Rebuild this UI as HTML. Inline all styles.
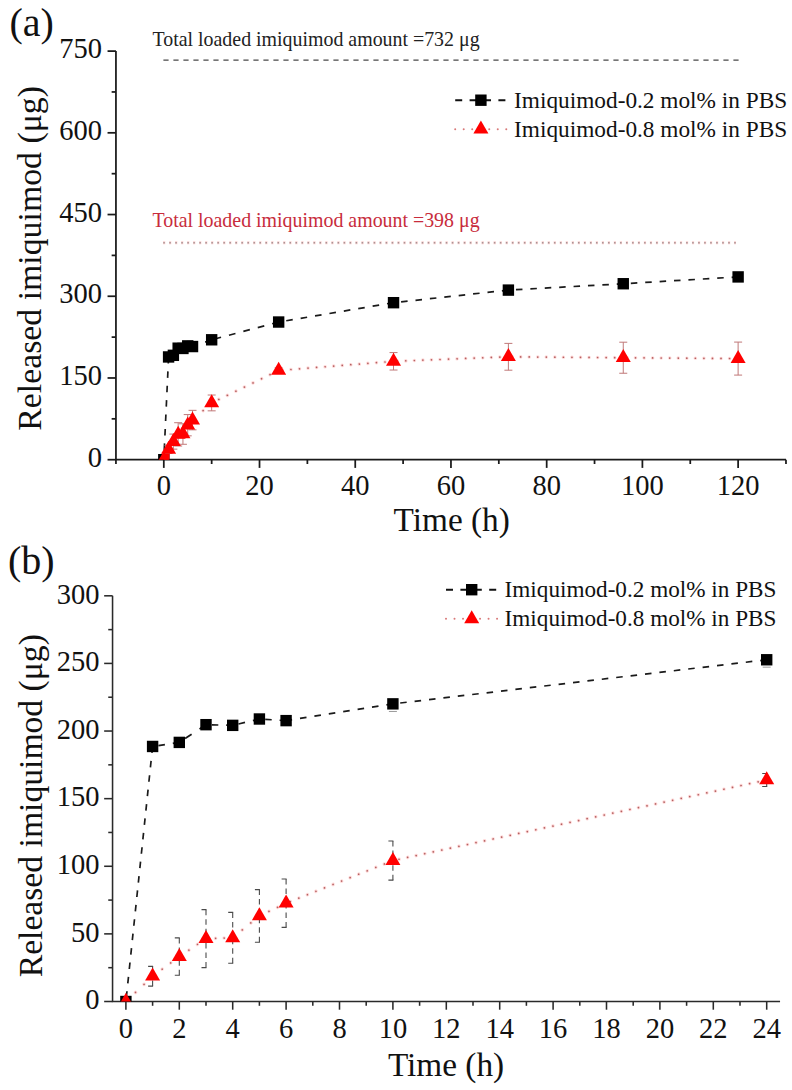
<!DOCTYPE html>
<html><head><meta charset="utf-8"><style>html,body{margin:0;padding:0;background:#fff;overflow:hidden}svg{display:block}</style></head>
<body>
<svg width="792" height="1090" viewBox="0 0 792 1090">
<rect width="100%" height="100%" fill="#fff"/>
<defs>
<clipPath id="ca"><rect x="115.94000000000001" y="41.10000000000002" width="680.04" height="418.59999999999997"/></clipPath>
<clipPath id="cb"><rect x="112.55000000000001" y="585.81" width="677.5" height="415.69000000000005"/></clipPath>
</defs>
<text x="9.5" y="35.5" font-family="Liberation Serif, serif" font-size="40" fill="#111">(a)</text>
<g stroke="#1a1a1a" stroke-width="1.75" fill="none" stroke-linecap="butt">
<path d="M115.94,51.10V459.70H785.98"/>
<path d="M163.80,459.70v8.2"/>
<path d="M259.52,459.70v8.2"/>
<path d="M355.24,459.70v8.2"/>
<path d="M450.96,459.70v8.2"/>
<path d="M546.68,459.70v8.2"/>
<path d="M642.40,459.70v8.2"/>
<path d="M738.12,459.70v8.2"/>
<path d="M115.94,459.70v4.3"/>
<path d="M211.66,459.70v4.3"/>
<path d="M307.38,459.70v4.3"/>
<path d="M403.10,459.70v4.3"/>
<path d="M498.82,459.70v4.3"/>
<path d="M594.54,459.70v4.3"/>
<path d="M690.26,459.70v4.3"/>
<path d="M785.98,459.70v4.3"/>
<path d="M115.94,459.70h-8.4"/>
<path d="M115.94,377.98h-8.4"/>
<path d="M115.94,296.26h-8.4"/>
<path d="M115.94,214.54h-8.4"/>
<path d="M115.94,132.82h-8.4"/>
<path d="M115.94,51.10h-8.4"/>
<path d="M115.94,418.84h-4.3"/>
<path d="M115.94,337.12h-4.3"/>
<path d="M115.94,255.40h-4.3"/>
<path d="M115.94,173.68h-4.3"/>
<path d="M115.94,91.96h-4.3"/>
</g>
<g font-family="Liberation Serif, serif" font-size="28.5" fill="#111">
<text x="163.80" y="494.6" text-anchor="middle">0</text>
<text x="259.52" y="494.6" text-anchor="middle">20</text>
<text x="355.24" y="494.6" text-anchor="middle">40</text>
<text x="450.96" y="494.6" text-anchor="middle">60</text>
<text x="546.68" y="494.6" text-anchor="middle">80</text>
<text x="642.40" y="494.6" text-anchor="middle">100</text>
<text x="738.12" y="494.6" text-anchor="middle">120</text>
<text x="101.9" y="466.90" text-anchor="end">0</text>
<text x="101.9" y="385.18" text-anchor="end">150</text>
<text x="101.9" y="303.46" text-anchor="end">300</text>
<text x="101.9" y="221.74" text-anchor="end">450</text>
<text x="101.9" y="140.02" text-anchor="end">600</text>
<text x="101.9" y="58.30" text-anchor="end">750</text>
</g>
<text transform="translate(40.6,430.8) rotate(-90)" font-family="Liberation Serif, serif" font-size="33.8" fill="#111">Released imiquimod (μg)</text>
<text x="393.6" y="530.6" font-family="Liberation Serif, serif" font-size="33.3" fill="#111">Time (h)</text>
<text x="152.5" y="45.9" font-family="Liberation Serif, serif" font-size="19.9" fill="#222">Total loaded imiquimod amount =732 μg</text>
<path d="M163.4,60.1H739" stroke="#484848" stroke-width="1.3" stroke-dasharray="5.2 4.8"/>
<text x="152.5" y="227.3" font-family="Liberation Serif, serif" font-size="19.9" fill="#c82c3c">Total loaded imiquimod amount =398 μg</text>
<path d="M163.05,242.7H736" stroke="#f08888" stroke-opacity="0.4" stroke-width="3" stroke-dasharray="2.2 3.81"/>
<path d="M163.3,242.7H736" stroke="#a89494" stroke-width="1.4" stroke-dasharray="1.5 4.51"/>
<g clip-path="url(#ca)">
<path d="M168.59,356.95L163.80,459.70" fill="none" stroke="#1a1a1a" stroke-width="1.7" stroke-dasharray="6.507 7.909"/>
<path d="M173.37,355.32L168.59,356.95" fill="none" stroke="#1a1a1a" stroke-width="1.7" stroke-dasharray="6.869 8.348"/>
<path d="M178.16,348.18L173.37,355.32" fill="none" stroke="#1a1a1a" stroke-width="1.7" stroke-dasharray="7.826 9.512"/>
<path d="M182.94,348.45L178.16,348.18" fill="none" stroke="#1a1a1a" stroke-width="1.7" stroke-dasharray="6.511 7.913"/>
<path d="M187.73,345.89L182.94,348.45" fill="none" stroke="#1a1a1a" stroke-width="1.7" stroke-dasharray="7.372 8.960"/>
<path d="M192.52,346.55L187.73,345.89" fill="none" stroke="#1a1a1a" stroke-width="1.7" stroke-dasharray="6.560 7.973"/>
<path d="M211.66,339.79L192.52,346.55" fill="none" stroke="#1a1a1a" stroke-width="1.7" stroke-dasharray="6.893 8.377"/>
<path d="M278.66,322.03L211.66,339.79" fill="none" stroke="#1a1a1a" stroke-width="1.7" stroke-dasharray="6.724 8.173"/>
<path d="M393.53,302.69L278.66,322.03" fill="none" stroke="#1a1a1a" stroke-width="1.7" stroke-dasharray="6.591 8.011"/>
<path d="M508.39,290.10L393.53,302.69" fill="none" stroke="#1a1a1a" stroke-width="1.7" stroke-dasharray="6.539 7.947"/>
<path d="M623.26,283.73L508.39,290.10" fill="none" stroke="#1a1a1a" stroke-width="1.7" stroke-dasharray="6.510 7.912"/>
<path d="M738.12,276.92L623.26,283.73" fill="none" stroke="#1a1a1a" stroke-width="1.7" stroke-dasharray="6.511 7.914"/>
<path d="M168.59,449.51L163.80,459.70" fill="none" stroke="#ff4040" stroke-opacity="0.2" stroke-width="3.6" stroke-dasharray="0.01 9.436" stroke-linecap="round"/>
<path d="M168.59,449.51L163.80,459.70" fill="none" stroke="#b26262" stroke-width="1.7" stroke-dasharray="0.01 9.436" stroke-linecap="round"/>
<path d="M173.37,441.61L168.59,449.51" fill="none" stroke="#ff4040" stroke-opacity="0.2" stroke-width="3.6" stroke-dasharray="0.01 9.987" stroke-linecap="round"/>
<path d="M173.37,441.61L168.59,449.51" fill="none" stroke="#b26262" stroke-width="1.7" stroke-dasharray="0.01 9.987" stroke-linecap="round"/>
<path d="M178.16,434.37L173.37,441.61" fill="none" stroke="#ff4040" stroke-opacity="0.2" stroke-width="3.6" stroke-dasharray="0.01 10.237" stroke-linecap="round"/>
<path d="M178.16,434.37L173.37,441.61" fill="none" stroke="#b26262" stroke-width="1.7" stroke-dasharray="0.01 10.237" stroke-linecap="round"/>
<path d="M182.94,434.04L178.16,434.37" fill="none" stroke="#ff4040" stroke-opacity="0.2" stroke-width="3.6" stroke-dasharray="0.01 8.560" stroke-linecap="round"/>
<path d="M182.94,434.04L178.16,434.37" fill="none" stroke="#b26262" stroke-width="1.7" stroke-dasharray="0.01 8.560" stroke-linecap="round"/>
<path d="M187.73,425.21L182.94,434.04" fill="none" stroke="#ff4040" stroke-opacity="0.2" stroke-width="3.6" stroke-dasharray="0.01 9.716" stroke-linecap="round"/>
<path d="M187.73,425.21L182.94,434.04" fill="none" stroke="#b26262" stroke-width="1.7" stroke-dasharray="0.01 9.716" stroke-linecap="round"/>
<path d="M192.52,420.09L187.73,425.21" fill="none" stroke="#ff4040" stroke-opacity="0.2" stroke-width="3.6" stroke-dasharray="0.01 11.693" stroke-linecap="round"/>
<path d="M192.52,420.09L187.73,425.21" fill="none" stroke="#b26262" stroke-width="1.7" stroke-dasharray="0.01 11.693" stroke-linecap="round"/>
<path d="M211.66,402.93L192.52,420.09" fill="none" stroke="#ff4040" stroke-opacity="0.2" stroke-width="3.6" stroke-dasharray="0.01 11.472" stroke-linecap="round"/>
<path d="M211.66,402.93L192.52,420.09" fill="none" stroke="#b26262" stroke-width="1.7" stroke-dasharray="0.01 11.472" stroke-linecap="round"/>
<path d="M278.66,370.46L211.66,402.93" fill="none" stroke="#ff4040" stroke-opacity="0.2" stroke-width="3.6" stroke-dasharray="0.01 9.491" stroke-linecap="round"/>
<path d="M278.66,370.46L211.66,402.93" fill="none" stroke="#b26262" stroke-width="1.7" stroke-dasharray="0.01 9.491" stroke-linecap="round"/>
<path d="M393.53,361.31L278.66,370.46" fill="none" stroke="#ff4040" stroke-opacity="0.2" stroke-width="3.6" stroke-dasharray="0.01 8.567" stroke-linecap="round"/>
<path d="M393.53,361.31L278.66,370.46" fill="none" stroke="#b26262" stroke-width="1.7" stroke-dasharray="0.01 8.567" stroke-linecap="round"/>
<path d="M508.39,356.79L393.53,361.31" fill="none" stroke="#ff4040" stroke-opacity="0.2" stroke-width="3.6" stroke-dasharray="0.01 8.547" stroke-linecap="round"/>
<path d="M508.39,356.79L393.53,361.31" fill="none" stroke="#b26262" stroke-width="1.7" stroke-dasharray="0.01 8.547" stroke-linecap="round"/>
<path d="M623.26,357.71L508.39,356.79" fill="none" stroke="#ff4040" stroke-opacity="0.2" stroke-width="3.6" stroke-dasharray="0.01 8.540" stroke-linecap="round"/>
<path d="M623.26,357.71L508.39,356.79" fill="none" stroke="#b26262" stroke-width="1.7" stroke-dasharray="0.01 8.540" stroke-linecap="round"/>
<path d="M738.12,358.59L623.26,357.71" fill="none" stroke="#ff4040" stroke-opacity="0.2" stroke-width="3.6" stroke-dasharray="0.01 8.540" stroke-linecap="round"/>
<path d="M738.12,358.59L623.26,357.71" fill="none" stroke="#b26262" stroke-width="1.7" stroke-dasharray="0.01 8.540" stroke-linecap="round"/>
<path d="M168.59,445.54V453.49M164.59,445.54h8M164.59,453.49h8" stroke="#c07878" stroke-width="1" fill="none"/>
<path d="M173.37,434.09V449.13M169.37,434.09h8M169.37,449.13h8" stroke="#c07878" stroke-width="1" fill="none"/>
<path d="M178.16,422.71V446.03M174.16,422.71h8M174.16,446.03h8" stroke="#c07878" stroke-width="1" fill="none"/>
<path d="M182.94,423.80V444.28M178.94,423.80h8M178.94,444.28h8" stroke="#c07878" stroke-width="1" fill="none"/>
<path d="M187.73,414.59V435.84M183.73,414.59h8M183.73,435.84h8" stroke="#c07878" stroke-width="1" fill="none"/>
<path d="M192.52,410.34V429.84M188.52,410.34h8M188.52,429.84h8" stroke="#c07878" stroke-width="1" fill="none"/>
<path d="M211.66,395.03V410.83M207.66,395.03h8M207.66,410.83h8" stroke="#c07878" stroke-width="1" fill="none"/>
<path d="M278.66,367.85V373.08M274.66,367.85h8M274.66,373.08h8" stroke="#c07878" stroke-width="1" fill="none"/>
<path d="M393.53,352.59V370.03M389.53,352.59h8M389.53,370.03h8" stroke="#c07878" stroke-width="1" fill="none"/>
<path d="M508.39,343.39V370.19M504.39,343.39h8M504.39,370.19h8" stroke="#c07878" stroke-width="1" fill="none"/>
<path d="M623.26,342.19V373.24M619.26,342.19h8M619.26,373.24h8" stroke="#c07878" stroke-width="1" fill="none"/>
<path d="M738.12,342.08V375.09M734.12,342.08h8M734.12,375.09h8" stroke="#c07878" stroke-width="1" fill="none"/>
<rect x="158.10" y="454.00" width="11.4" height="11.4" fill="#000"/>
<rect x="162.89" y="351.25" width="11.4" height="11.4" fill="#000"/>
<rect x="167.67" y="349.62" width="11.4" height="11.4" fill="#000"/>
<rect x="172.46" y="342.48" width="11.4" height="11.4" fill="#000"/>
<rect x="177.24" y="342.75" width="11.4" height="11.4" fill="#000"/>
<rect x="182.03" y="340.19" width="11.4" height="11.4" fill="#000"/>
<rect x="186.82" y="340.85" width="11.4" height="11.4" fill="#000"/>
<rect x="205.96" y="334.09" width="11.4" height="11.4" fill="#000"/>
<rect x="272.96" y="316.33" width="11.4" height="11.4" fill="#000"/>
<rect x="387.83" y="296.99" width="11.4" height="11.4" fill="#000"/>
<rect x="502.69" y="284.40" width="11.4" height="11.4" fill="#000"/>
<rect x="617.56" y="278.03" width="11.4" height="11.4" fill="#000"/>
<rect x="732.42" y="271.22" width="11.4" height="11.4" fill="#000"/>
<path d="M163.80,451.03L171.30,464.03L156.30,464.03Z" fill="#f00"/>
<path d="M168.59,440.84L176.09,453.84L161.09,453.84Z" fill="#f00"/>
<path d="M173.37,432.94L180.87,445.94L165.87,445.94Z" fill="#f00"/>
<path d="M178.16,425.70L185.66,438.70L170.66,438.70Z" fill="#f00"/>
<path d="M182.94,425.37L190.44,438.37L175.44,438.37Z" fill="#f00"/>
<path d="M187.73,416.54L195.23,429.54L180.23,429.54Z" fill="#f00"/>
<path d="M192.52,411.42L200.02,424.42L185.02,424.42Z" fill="#f00"/>
<path d="M211.66,394.26L219.16,407.26L204.16,407.26Z" fill="#f00"/>
<path d="M278.66,361.79L286.16,374.79L271.16,374.79Z" fill="#f00"/>
<path d="M393.53,352.64L401.03,365.64L386.03,365.64Z" fill="#f00"/>
<path d="M508.39,348.12L515.89,361.12L500.89,361.12Z" fill="#f00"/>
<path d="M623.26,349.04L630.76,362.04L615.76,362.04Z" fill="#f00"/>
<path d="M738.12,349.92L745.62,362.92L730.62,362.92Z" fill="#f00"/>
</g>
<rect x="163.80" y="454.00" width="5.7" height="5.7" fill="#f00"/>
<path d="M455.20,100.2h51.4" stroke="#111" stroke-width="1.9" stroke-dasharray="7 7.4"/>
<rect x="475.20" y="94.50" width="11.4" height="11.4" fill="#000"/>
<path d="M455.20,129.2h51.4" stroke="#c02020" stroke-width="2" stroke-dasharray="0.01 8.5" stroke-linecap="round" opacity="0.6"/>
<path d="M480.90,120.53l7.5,13h-15Z" fill="#f00"/>
<g font-family="Liberation Serif, serif" font-size="23.3" fill="#111"><text x="514.1" y="107.70">Imiquimod-0.2 mol% in PBS</text><text x="514.1" y="137.30">Imiquimod-0.8 mol% in PBS</text></g>
<text x="8" y="573.5" font-family="Liberation Serif, serif" font-size="40" fill="#111">(b)</text>
<g stroke="#2a2a2a" stroke-width="1.55" fill="none" stroke-linecap="butt">
<path d="M112.55,595.81V1001.50H780.05"/>
<path d="M125.90,1001.50v8.2"/>
<path d="M179.30,1001.50v8.2"/>
<path d="M232.70,1001.50v8.2"/>
<path d="M286.10,1001.50v8.2"/>
<path d="M339.50,1001.50v8.2"/>
<path d="M392.90,1001.50v8.2"/>
<path d="M446.30,1001.50v8.2"/>
<path d="M499.70,1001.50v8.2"/>
<path d="M553.10,1001.50v8.2"/>
<path d="M606.50,1001.50v8.2"/>
<path d="M659.90,1001.50v8.2"/>
<path d="M713.30,1001.50v8.2"/>
<path d="M766.70,1001.50v8.2"/>
<path d="M152.60,1001.50v4.3"/>
<path d="M206.00,1001.50v4.3"/>
<path d="M259.40,1001.50v4.3"/>
<path d="M312.80,1001.50v4.3"/>
<path d="M366.20,1001.50v4.3"/>
<path d="M419.60,1001.50v4.3"/>
<path d="M473.00,1001.50v4.3"/>
<path d="M526.40,1001.50v4.3"/>
<path d="M579.80,1001.50v4.3"/>
<path d="M633.20,1001.50v4.3"/>
<path d="M686.60,1001.50v4.3"/>
<path d="M740.00,1001.50v4.3"/>
<path d="M112.55,1001.50h-8.4"/>
<path d="M112.55,933.88h-8.4"/>
<path d="M112.55,866.27h-8.4"/>
<path d="M112.55,798.65h-8.4"/>
<path d="M112.55,731.04h-8.4"/>
<path d="M112.55,663.42h-8.4"/>
<path d="M112.55,595.81h-8.4"/>
<path d="M112.55,967.69h-4.3"/>
<path d="M112.55,900.08h-4.3"/>
<path d="M112.55,832.46h-4.3"/>
<path d="M112.55,764.85h-4.3"/>
<path d="M112.55,697.23h-4.3"/>
<path d="M112.55,629.62h-4.3"/>
</g>
<g font-family="Liberation Serif, serif" font-size="28.5" fill="#111">
<text x="125.90" y="1037.6" text-anchor="middle">0</text>
<text x="179.30" y="1037.6" text-anchor="middle">2</text>
<text x="232.70" y="1037.6" text-anchor="middle">4</text>
<text x="286.10" y="1037.6" text-anchor="middle">6</text>
<text x="339.50" y="1037.6" text-anchor="middle">8</text>
<text x="392.90" y="1037.6" text-anchor="middle">10</text>
<text x="446.30" y="1037.6" text-anchor="middle">12</text>
<text x="499.70" y="1037.6" text-anchor="middle">14</text>
<text x="553.10" y="1037.6" text-anchor="middle">16</text>
<text x="606.50" y="1037.6" text-anchor="middle">18</text>
<text x="659.90" y="1037.6" text-anchor="middle">20</text>
<text x="713.30" y="1037.6" text-anchor="middle">22</text>
<text x="766.70" y="1037.6" text-anchor="middle">24</text>
<text x="99.5" y="1009.30" text-anchor="end">0</text>
<text x="99.5" y="941.68" text-anchor="end">50</text>
<text x="99.5" y="874.07" text-anchor="end">100</text>
<text x="99.5" y="806.45" text-anchor="end">150</text>
<text x="99.5" y="738.84" text-anchor="end">200</text>
<text x="99.5" y="671.22" text-anchor="end">250</text>
<text x="99.5" y="603.61" text-anchor="end">300</text>
</g>
<text transform="translate(42.1,977.3) rotate(-90)" font-family="Liberation Serif, serif" font-size="33.65" fill="#111">Released imiquimod (μg)</text>
<text x="387.9" y="1076" font-family="Liberation Serif, serif" font-size="33.3" fill="#111">Time (h)</text>
<g clip-path="url(#cb)">
<path d="M152.60,746.46L125.90,1001.50" fill="none" stroke="#1a1a1a" stroke-width="1.7" stroke-dasharray="6.536 7.943"/>
<path d="M179.30,742.40L152.60,746.46" fill="none" stroke="#1a1a1a" stroke-width="1.7" stroke-dasharray="6.575 7.991"/>
<path d="M206.00,724.68L179.30,742.40" fill="none" stroke="#1a1a1a" stroke-width="1.7" stroke-dasharray="7.801 9.481"/>
<path d="M232.70,725.36L206.00,724.68" fill="none" stroke="#1a1a1a" stroke-width="1.7" stroke-dasharray="6.502 7.903"/>
<path d="M259.40,719.00L232.70,725.36" fill="none" stroke="#1a1a1a" stroke-width="1.7" stroke-dasharray="6.682 8.121"/>
<path d="M286.10,720.63L259.40,719.00" fill="none" stroke="#1a1a1a" stroke-width="1.7" stroke-dasharray="6.512 7.915"/>
<path d="M392.90,703.86L286.10,720.63" fill="none" stroke="#1a1a1a" stroke-width="1.7" stroke-dasharray="6.580 7.997"/>
<path d="M766.70,659.77L392.90,703.86" fill="none" stroke="#1a1a1a" stroke-width="1.7" stroke-dasharray="6.545 7.955"/>
<path d="M152.60,976.21L125.90,1001.50" fill="none" stroke="#ff4040" stroke-opacity="0.2" stroke-width="3.6" stroke-dasharray="0.01 11.766" stroke-linecap="round"/>
<path d="M152.60,976.21L125.90,1001.50" fill="none" stroke="#b26262" stroke-width="1.7" stroke-dasharray="0.01 11.766" stroke-linecap="round"/>
<path d="M179.30,956.60L152.60,976.21" fill="none" stroke="#ff4040" stroke-opacity="0.2" stroke-width="3.6" stroke-dasharray="0.01 10.598" stroke-linecap="round"/>
<path d="M179.30,956.60L152.60,976.21" fill="none" stroke="#b26262" stroke-width="1.7" stroke-dasharray="0.01 10.598" stroke-linecap="round"/>
<path d="M206.00,938.62L179.30,956.60" fill="none" stroke="#ff4040" stroke-opacity="0.2" stroke-width="3.6" stroke-dasharray="0.01 10.299" stroke-linecap="round"/>
<path d="M206.00,938.62L179.30,956.60" fill="none" stroke="#b26262" stroke-width="1.7" stroke-dasharray="0.01 10.299" stroke-linecap="round"/>
<path d="M232.70,937.81L206.00,938.62" fill="none" stroke="#ff4040" stroke-opacity="0.2" stroke-width="3.6" stroke-dasharray="0.01 8.544" stroke-linecap="round"/>
<path d="M232.70,937.81L206.00,938.62" fill="none" stroke="#b26262" stroke-width="1.7" stroke-dasharray="0.01 8.544" stroke-linecap="round"/>
<path d="M259.40,915.90L232.70,937.81" fill="none" stroke="#ff4040" stroke-opacity="0.2" stroke-width="3.6" stroke-dasharray="0.01 11.050" stroke-linecap="round"/>
<path d="M259.40,915.90L232.70,937.81" fill="none" stroke="#b26262" stroke-width="1.7" stroke-dasharray="0.01 11.050" stroke-linecap="round"/>
<path d="M286.10,903.19L259.40,915.90" fill="none" stroke="#ff4040" stroke-opacity="0.2" stroke-width="3.6" stroke-dasharray="0.01 9.460" stroke-linecap="round"/>
<path d="M286.10,903.19L259.40,915.90" fill="none" stroke="#b26262" stroke-width="1.7" stroke-dasharray="0.01 9.460" stroke-linecap="round"/>
<path d="M392.90,860.59L286.10,903.19" fill="none" stroke="#ff4040" stroke-opacity="0.2" stroke-width="3.6" stroke-dasharray="0.01 9.195" stroke-linecap="round"/>
<path d="M392.90,860.59L286.10,903.19" fill="none" stroke="#b26262" stroke-width="1.7" stroke-dasharray="0.01 9.195" stroke-linecap="round"/>
<path d="M766.70,779.99L392.90,860.59" fill="none" stroke="#ff4040" stroke-opacity="0.2" stroke-width="3.6" stroke-dasharray="0.01 8.736" stroke-linecap="round"/>
<path d="M766.70,779.99L392.90,860.59" fill="none" stroke="#b26262" stroke-width="1.7" stroke-dasharray="0.01 8.736" stroke-linecap="round"/>
<path d="M152.60,966.34V976.21199M152.60,986.08V976.21199" stroke="#4a4a4a" stroke-width="1.1" fill="none" stroke-dasharray="5.5 4"/>
<path d="M148.10,966.34h5M148.10,986.08h5" stroke="#4a4a4a" stroke-width="1.2" fill="none"/>
<path d="M179.30,937.94V956.60364M179.30,975.27V956.60364" stroke="#4a4a4a" stroke-width="1.1" fill="none" stroke-dasharray="5.5 4"/>
<path d="M174.80,937.94h5M174.80,975.27h5" stroke="#4a4a4a" stroke-width="1.2" fill="none"/>
<path d="M206.00,909.68V938.61805M206.00,967.56V938.61805" stroke="#4a4a4a" stroke-width="1.1" fill="none" stroke-dasharray="5.5 4"/>
<path d="M201.50,909.68h5M201.50,967.56h5" stroke="#4a4a4a" stroke-width="1.2" fill="none"/>
<path d="M232.70,912.38V937.8066699999999M232.70,963.23V937.8066699999999" stroke="#4a4a4a" stroke-width="1.1" fill="none" stroke-dasharray="5.5 4"/>
<path d="M228.20,912.38h5M228.20,963.23h5" stroke="#4a4a4a" stroke-width="1.2" fill="none"/>
<path d="M259.40,889.53V915.89941M259.40,942.27V915.89941" stroke="#4a4a4a" stroke-width="1.1" fill="none" stroke-dasharray="5.5 4"/>
<path d="M254.90,889.53h5M254.90,942.27h5" stroke="#4a4a4a" stroke-width="1.2" fill="none"/>
<path d="M286.10,878.98V903.18779M286.10,927.39V903.18779" stroke="#4a4a4a" stroke-width="1.1" fill="none" stroke-dasharray="5.5 4"/>
<path d="M281.60,878.98h5M281.60,927.39h5" stroke="#4a4a4a" stroke-width="1.2" fill="none"/>
<path d="M392.90,840.98V860.59034M392.90,880.20V860.59034" stroke="#4a4a4a" stroke-width="1.1" fill="none" stroke-dasharray="5.5 4"/>
<path d="M388.40,840.98h5M388.40,880.20h5" stroke="#4a4a4a" stroke-width="1.2" fill="none"/>
<path d="M766.70,773.50V779.99326M766.70,786.48V779.99326" stroke="#4a4a4a" stroke-width="1.1" fill="none" stroke-dasharray="5.5 4"/>
<path d="M762.20,773.50h5M762.20,786.48h5" stroke="#4a4a4a" stroke-width="1.2" fill="none"/>
<path d="M388.90,711.46h8" stroke="#999" stroke-width="1" fill="none"/>
<path d="M762.70,667.17h8" stroke="#999" stroke-width="1" fill="none"/>
<rect x="120.20" y="995.80" width="11.4" height="11.4" fill="#000"/>
<rect x="146.90" y="740.76" width="11.4" height="11.4" fill="#000"/>
<rect x="173.60" y="736.70" width="11.4" height="11.4" fill="#000"/>
<rect x="200.30" y="718.98" width="11.4" height="11.4" fill="#000"/>
<rect x="227.00" y="719.66" width="11.4" height="11.4" fill="#000"/>
<rect x="253.70" y="713.30" width="11.4" height="11.4" fill="#000"/>
<rect x="280.40" y="714.93" width="11.4" height="11.4" fill="#000"/>
<rect x="387.20" y="698.16" width="11.4" height="11.4" fill="#000"/>
<rect x="761.00" y="654.07" width="11.4" height="11.4" fill="#000"/>
<path d="M125.90,992.83L133.40,1005.83L118.40,1005.83Z" fill="#f00"/>
<path d="M152.60,967.54L160.10,980.54L145.10,980.54Z" fill="#f00"/>
<path d="M179.30,947.93L186.80,960.93L171.80,960.93Z" fill="#f00"/>
<path d="M206.00,929.95L213.50,942.95L198.50,942.95Z" fill="#f00"/>
<path d="M232.70,929.14L240.20,942.14L225.20,942.14Z" fill="#f00"/>
<path d="M259.40,907.23L266.90,920.23L251.90,920.23Z" fill="#f00"/>
<path d="M286.10,894.52L293.60,907.52L278.60,907.52Z" fill="#f00"/>
<path d="M392.90,851.92L400.40,864.92L385.40,864.92Z" fill="#f00"/>
<path d="M766.70,771.32L774.20,784.32L759.20,784.32Z" fill="#f00"/>
</g>
<path d="M446.00,589.7h51.4" stroke="#111" stroke-width="1.9" stroke-dasharray="7 7.4"/>
<rect x="466.00" y="584.00" width="11.4" height="11.4" fill="#000"/>
<path d="M446.00,618.8h51.4" stroke="#c02020" stroke-width="2" stroke-dasharray="0.01 8.5" stroke-linecap="round" opacity="0.6"/>
<path d="M471.70,610.13l7.5,13h-15Z" fill="#f00"/>
<g font-family="Liberation Serif, serif" font-size="23.2" fill="#111"><text x="504.6" y="597.20">Imiquimod-0.2 mol% in PBS</text><text x="504.6" y="625.60">Imiquimod-0.8 mol% in PBS</text></g>
</svg>
</body></html>
